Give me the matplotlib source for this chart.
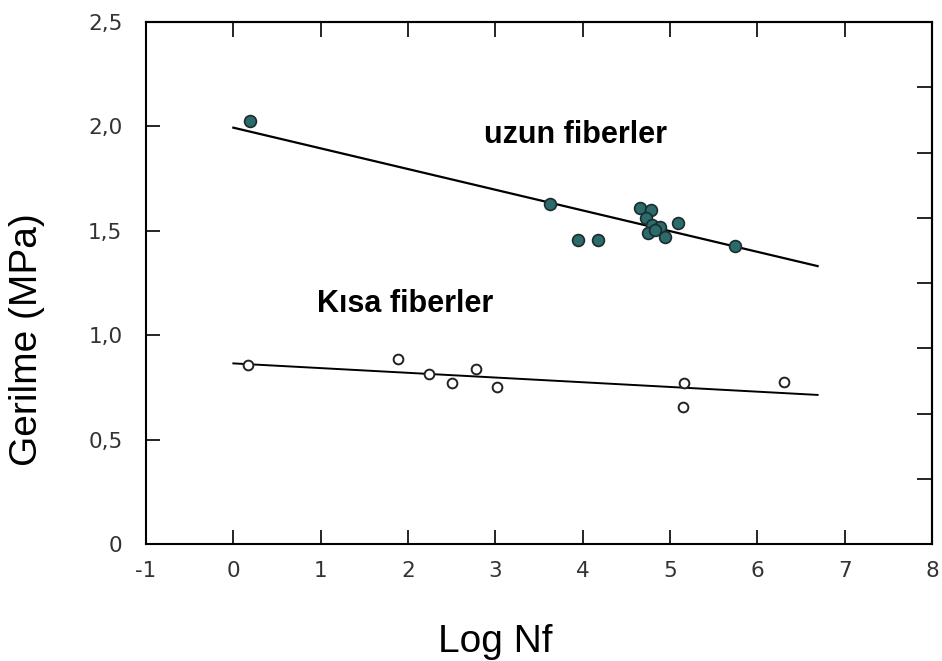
import matplotlib
matplotlib.use("Agg")
import matplotlib.pyplot as plt

plt.rcParams["font.family"] = ["DejaVu Sans"]

# Uzun fiberler (filled points)
long_x = [0.19, 3.63, 3.95, 4.17, 4.66, 4.78, 4.72, 4.79, 4.88, 4.75, 4.83, 4.94, 5.09, 5.74]
long_y = [2.026, 1.628, 1.455, 1.457, 1.608, 1.600, 1.560, 1.528, 1.520, 1.488, 1.504, 1.472, 1.536, 1.427]

# Kisa fiberler (open points)
short_x = [0.17, 1.89, 2.24, 2.50, 2.78, 3.02, 5.16, 5.15, 6.30]
short_y = [0.857, 0.884, 0.813, 0.770, 0.837, 0.750, 0.770, 0.655, 0.777]

# Fit lines
fit_x = [0.0, 6.69]
long_fit = [1.994, 1.331]
short_fit = [0.865, 0.714]

x_ticks = [-1, 0, 1, 2, 3, 4, 5, 6, 7, 8]
y_ticks = [0, 0.5, 1.0, 1.5, 2.0, 2.5]
y_labels = ["0", "0,5", "1,0", "1,5", "2,0", "2,5"]
right_ticks = [0.3125, 0.625, 0.9375, 1.25, 1.5625, 1.875, 2.1875]

fig = plt.figure(figsize=(9.42, 6.61), dpi=100)
ax = fig.add_axes([0.155, 0.177, 0.8344, 0.7897])

# Lines
ax.plot(fit_x, long_fit, color="black", linewidth=1.6, zorder=2)
ax.plot(fit_x, short_fit, color="black", linewidth=1.4, zorder=2)

# Points
ax.plot(long_x, long_y, "o", markersize=8.5, markerfacecolor="#2b6b6b",
        markeredgecolor="#1c2c2c", markeredgewidth=1.2, zorder=3)
ax.plot(short_x, short_y, "o", markersize=7, markerfacecolor="white",
        markeredgecolor="#222222", markeredgewidth=1.4, zorder=3)

ax.set_xlim(-1, 8)
ax.set_ylim(0, 2.5)

# Ticks
ax.set_xticks(x_ticks)
ax.set_xticklabels([str(v) for v in x_ticks])
ax.set_yticks(y_ticks)
ax.set_yticklabels(y_labels)
ax.tick_params(axis="both", direction="in", length=10, width=1.2,
               labelsize=15.5, labelcolor="#333333", labelfontfamily="DejaVu Sans")
ax.tick_params(axis="x", pad=12)
ax.tick_params(axis="y", pad=17)

# hide end ticks on the spines corners
for t in ax.xaxis.get_major_ticks():
    if t.get_loc() in (-1, 8):
        t.tick1line.set_visible(False)
for t in ax.yaxis.get_major_ticks():
    if t.get_loc() in (0, 2.5):
        t.tick1line.set_visible(False)

top = ax.secondary_xaxis("top")
top.set_xticks([0, 1, 2, 3, 4, 5, 6, 7])
top.tick_params(direction="in", length=11, width=1.2, labeltop=False)
top.spines["top"].set_linewidth(1.5)

right = ax.secondary_yaxis("right")
right.set_yticks(right_ticks)
right.tick_params(direction="in", length=11, width=1.2, labelright=False)
right.spines["right"].set_linewidth(1.5)

for s in ax.spines.values():
    s.set_linewidth(1.5)

# Annotations
ax.text(2.875, 1.92, "uzun fiberler", fontsize=22, fontweight="bold",
        family="Liberation Sans", ha="left", va="baseline")
ax.text(0.96, 1.113, "Kısa fiberler", fontsize=22, fontweight="bold",
        family="Liberation Sans", ha="left", va="baseline")

# Axis titles
fig.text(0.029, 0.486, "Gerilme (MPa)", fontsize=28, family="Liberation Sans",
         rotation=90, ha="center", va="center")
fig.text(0.465, 0.0136, "Log Nf", fontsize=28, family="Liberation Sans",
         ha="left", va="baseline")

fig.savefig("out.png", dpi=100)
